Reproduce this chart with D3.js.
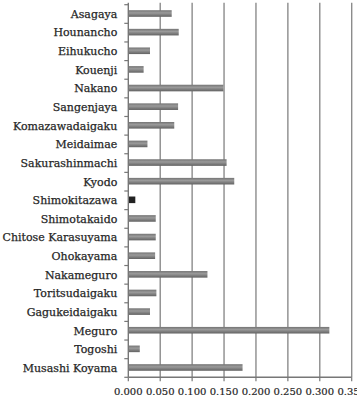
<!DOCTYPE html>
<html>
<head>
<meta charset="utf-8">
<script src="https://cdn.jsdelivr.net/npm/d3@7"></script>
<style>
  html, body { margin: 0; padding: 0; background: #fff; overflow: hidden; }
  svg { display: block; }
  .lbl { font-family: "DejaVu Serif", serif; font-size: 11px; fill: #262626; stroke: #262626; stroke-width: 0.25; }
  .tick-x { font-family: "DejaVu Serif", serif; font-size: 10px; fill: #262626; stroke: #262626; stroke-width: 0.2; }
</style>
</head>
<body>
<div id="chart"></div>
<script>
// ── Data ───────────────────────────────────────────────────────────────
const stations = [
  'Asagaya', 'Hounancho', 'Eihukucho', 'Kouenji', 'Nakano', 'Sangenjaya',
  'Komazawadaigaku', 'Meidaimae', 'Sakurashinmachi', 'Kyodo', 'Shimokitazawa',
  'Shimotakaido', 'Chitose Karasuyama', 'Ohokayama', 'Nakameguro',
  'Toritsudaigaku', 'Gagukeidaigaku', 'Meguro', 'Togoshi', 'Musashi Koyama'
];
const values = [
  0.068, 0.079, 0.034, 0.024, 0.149, 0.078,
  0.072, 0.030, 0.154, 0.166, 0.011,
  0.043, 0.043, 0.042, 0.124,
  0.044, 0.034, 0.315, 0.018, 0.179
];
const highlighted = ['Shimokitazawa'];
const xTicks = [0, 0.05, 0.10, 0.15, 0.20, 0.25, 0.30, 0.35];

// ── Layout ─────────────────────────────────────────────────────────────
const W = 357, H = 399;
const m = { top: 4.7, right: 5.3, bottom: 21.7, left: 128.3 };

const svg = d3.select('#chart').append('svg')
  .attr('width', W).attr('height', H);

const defs = svg.append('defs');
const grad = defs.append('linearGradient')
  .attr('id', 'barGrad').attr('x1', 0).attr('x2', 0).attr('y1', 0).attr('y2', 1);
[['0%', '#747474'], ['40%', '#9a9a9a'], ['100%', '#626262']].forEach(([o, c]) =>
  grad.append('stop').attr('offset', o).attr('stop-color', c));

const x = d3.scaleLinear().domain([0, 0.35]).range([m.left, W - m.right]);
const y = d3.scaleBand().domain(stations).range([m.top, H - m.bottom]);

// grid lines
svg.append('g')
  .selectAll('line')
  .data(xTicks.slice(1))
  .join('line')
    .attr('x1', d => x(d)).attr('x2', d => x(d))
    .attr('y1', m.top - 2).attr('y2', H - m.bottom)
    .attr('stroke', '#8c8c8c').attr('stroke-width', 1.4);

// bars
const barH = 6.6;
svg.append('g')
  .selectAll('rect')
  .data(stations.map((s, i) => ({ s, v: values[i] })))
  .join('rect')
    .attr('x', x(0))
    .attr('y', d => y(d.s) + y.bandwidth() / 2 - barH / 2 - 0.5)
    .attr('width', d => x(d.v) - x(0))
    .attr('height', barH)
    .attr('fill', d => highlighted.includes(d.s) ? '#222' : 'url(#barGrad)');

// y axis (ticks at band boundaries)
const yAx = svg.append('g');
yAx.append('line')
  .attr('x1', x(0)).attr('x2', x(0))
  .attr('y1', m.top - 2).attr('y2', H - m.bottom)
  .attr('stroke', '#777').attr('stroke-width', 1.4);
yAx.selectAll('line.tk')
  .data(d3.range(stations.length + 1))
  .join('line')
    .attr('class', 'tk')
    .attr('x1', x(0) - 4).attr('x2', x(0))
    .attr('y1', i => m.top + i * y.step())
    .attr('y2', i => m.top + i * y.step())
    .attr('stroke', '#777').attr('stroke-width', 1.2);
yAx.selectAll('text')
  .data(stations)
  .join('text')
    .attr('class', 'lbl')
    .attr('x', x(0) - 11)
    .attr('y', d => y(d) + y.bandwidth() / 2)
    .attr('dy', '0.35em')
    .attr('text-anchor', 'end')
    .text(d => d);

// x axis
const xAx = svg.append('g');
xAx.append('line')
  .attr('x1', x(0)).attr('x2', W - m.right)
  .attr('y1', H - m.bottom).attr('y2', H - m.bottom)
  .attr('stroke', '#777').attr('stroke-width', 1.4);
xAx.selectAll('line.tk')
  .data(xTicks)
  .join('line')
    .attr('class', 'tk')
    .attr('x1', d => x(d)).attr('x2', d => x(d))
    .attr('y1', H - m.bottom).attr('y2', H - m.bottom + 4)
    .attr('stroke', '#777').attr('stroke-width', 1.2);
xAx.selectAll('text')
  .data(xTicks)
  .join('text')
    .attr('class', 'tick-x')
    .attr('x', d => x(d))
    .attr('y', H - 4)
    .attr('text-anchor', 'middle')
    .text(d3.format('.3f'));
</script>
</body>
</html>
